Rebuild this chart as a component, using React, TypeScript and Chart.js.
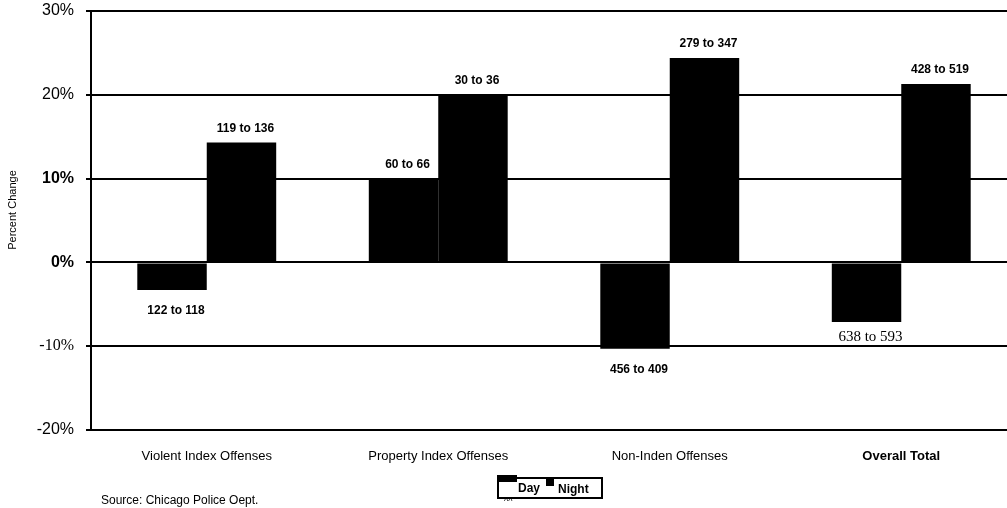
import React, { useEffect, useRef } from "react";
import { Chart, registerables } from "chart.js";

Chart.register(...registerables);

const categories = [
  "Violent Index Offenses",
  "Property Index Offenses",
  "Non-Inden Offenses",
  "Overall Total",
];
const seriesNames = ["Day", "Night"];
const dayValues = [-3.3, 10, -10.3, -7.1];
const nightValues = [14.3, 20, 24.4, 21.3];
const dayLabels = ["122 to 118", "60 to 66", "456 to 409", "638 to 593"];
const nightLabels = ["119 to 136", "30 to 36", "279 to 347", "428 to 519"];
const yTickValues = [-20, -10, 0, 10, 20, 30];
const yTickLabels = ["-20%", "-10%", "0%", "10%", "20%", "30%"];
const yTitle = "Percent Change";
const sourceText = "Source: Chicago Police Oept.";

const SANS = "'Liberation Sans', Arial, sans-serif";
const NARROW = "'Liberation Sans Narrow', 'Liberation Sans', Arial, sans-serif";
const SERIF = "'Liberation Serif', 'Times New Roman', serif";

const overlayPlugin = {
  id: "overlay",
  afterDatasetsDraw(chart: any) {
    const ctx = chart.ctx;
    ctx.save();
    ctx.fillStyle = "#000";
    ctx.textAlign = "center";
    ctx.textBaseline = "middle";
    const allLabels = [dayLabels, nightLabels];
    chart.data.datasets.forEach((ds: any, di: number) => {
      const meta = chart.getDatasetMeta(di);
      meta.data.forEach((bar: any, i: number) => {
        const v = ds.data[i];
        const txt = allLabels[di][i];
        const serif = txt === "638 to 593";
        ctx.font = serif ? `15px ${SERIF}` : `bold 12px ${NARROW}`;
        const y = v >= 0 ? bar.y - 14 : bar.y + (serif ? 15 : 21);
        ctx.fillText(txt, bar.x + 4, y);
      });
    });
    ctx.restore();
  },
  afterDraw(chart: any) {
    const ctx = chart.ctx;
    ctx.save();
    ctx.fillStyle = "#000";
    // y axis title
    ctx.save();
    ctx.translate(13, 210);
    ctx.rotate(-Math.PI / 2);
    ctx.font = `11px ${SANS}`;
    ctx.textAlign = "center";
    ctx.textBaseline = "middle";
    ctx.fillText(yTitle, 0, 0);
    ctx.restore();
    // source
    ctx.font = `12px ${SANS}`;
    ctx.textAlign = "left";
    ctx.textBaseline = "middle";
    ctx.fillText(sourceText, 101, 501);
    // legend
    ctx.strokeStyle = "#000";
    ctx.lineWidth = 2;
    ctx.strokeRect(498, 478, 104, 20);
    ctx.fillRect(497, 475, 20, 7);
    ctx.font = `bold 12px ${NARROW}`;
    ctx.fillText(seriesNames[0], 518, 489);
    ctx.fillRect(546, 479, 8, 7);
    ctx.fillText(seriesNames[1], 558, 490);
    ctx.font = `9px ${SANS}`;
    ctx.fillText("^^", 504, 502);
    ctx.restore();
  },
};

export default function App() {
  const ref = useRef<HTMLCanvasElement | null>(null);
  useEffect(() => {
    document.body.style.margin = "0";
    document.body.style.overflow = "hidden";
    const canvas = ref.current!;
    const chart = new Chart(canvas, {
      type: "bar",
      data: {
        labels: categories,
        datasets: [
          {
            label: seriesNames[0],
            data: dayValues,
            backgroundColor: "#000",
            borderWidth: 0,
            barPercentage: 1,
            categoryPercentage: 0.6,
          },
          {
            label: seriesNames[1],
            data: nightValues,
            backgroundColor: "#000",
            borderWidth: 0,
            barPercentage: 1,
            categoryPercentage: 0.6,
          },
        ],
      },
      options: {
        responsive: false,
        animation: false,
        layout: { padding: { top: 11, right: 13, left: 0, bottom: 0 } },
        plugins: {
          legend: { display: false },
          tooltip: { enabled: false },
        },
        scales: {
          x: {
            grid: { display: false },
            border: { display: false },
            ticks: {
              color: "#000",
              padding: 11,
              font: (c: any) =>
                c.index === 3
                  ? { family: NARROW, size: 13, weight: "bold" }
                  : { family: SANS, size: 13 },
            },
            afterFit: (s: any) => {
              s.height = 78;
              s.paddingLeft = 0;
              s.paddingRight = 0;
            },
          },
          y: {
            min: -20,
            max: 30,
            afterBuildTicks: (s: any) => {
              s.ticks = yTickValues.map((v) => ({ value: v }));
            },
            grid: {
              color: "#000",
              lineWidth: 2,
              tickLength: 5,
            },
            border: { display: true, color: "#000", width: 2 },
            ticks: {
              color: "#000",
              padding: 12,
              callback: (v: any) => yTickLabels[yTickValues.indexOf(Number(v))],
              font: (c: any) => {
                const v = c.tick ? c.tick.value : 0;
                if (v === -10) return { family: SERIF, size: 16 };
                if (v === 0 || v === 10) return { family: NARROW, size: 16, weight: "bold" };
                return { family: SANS, size: 16 };
              },
            },
            afterFit: (s: any) => {
              s.width = 91;
              s.paddingTop = 0;
              s.paddingBottom = 0;
            },
          },
        },
      },
      plugins: [overlayPlugin],
    });
    return () => chart.destroy();
  }, []);
  return (
    <div style={{ position: "absolute", left: 0, top: 0, width: 1030, height: 508 }}>
      <canvas ref={ref} width={1030} height={508} />
    </div>
  );
}
